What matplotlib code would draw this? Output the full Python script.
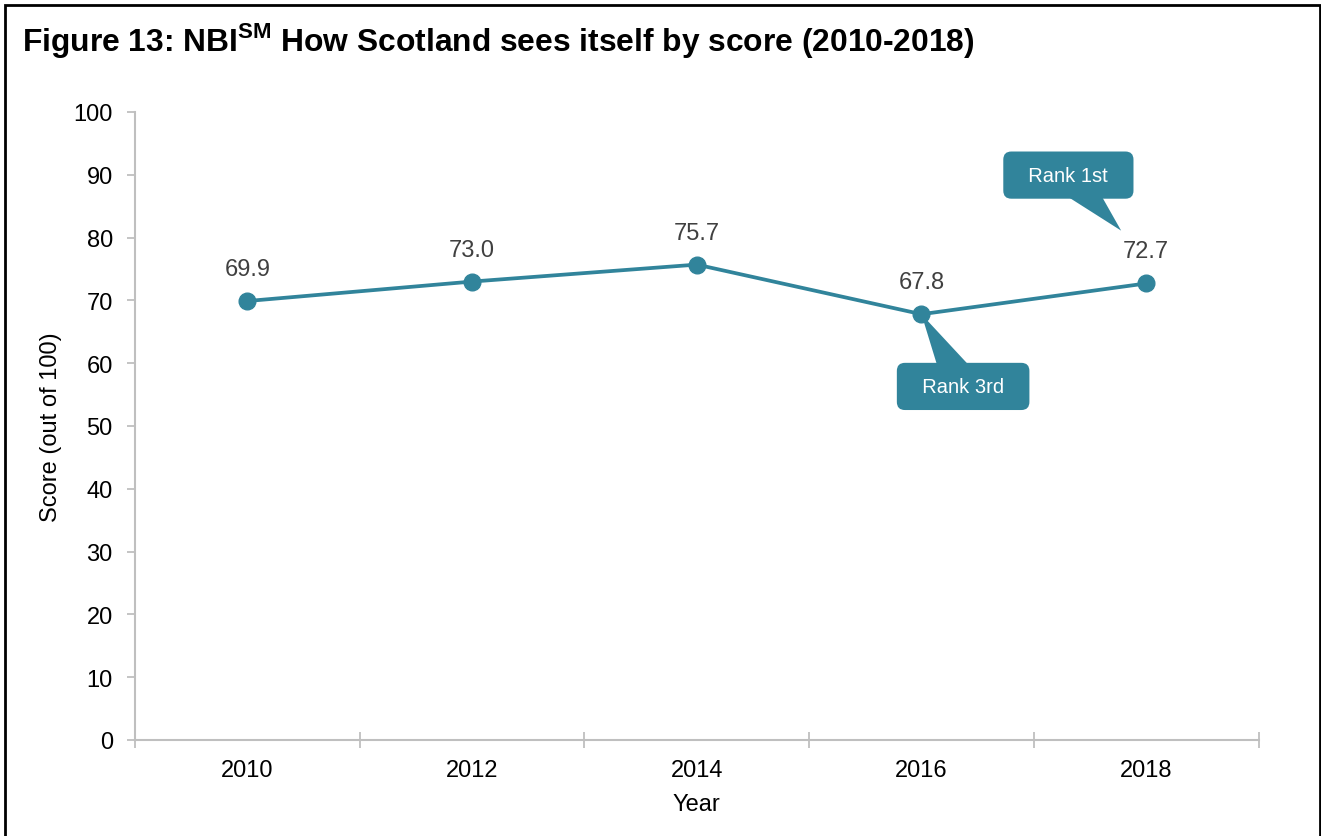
import matplotlib.pyplot as plt
from matplotlib.patches import Rectangle
from matplotlib.transforms import offset_copy

plt.rcParams['font.family'] = ['Liberation Sans', 'DejaVu Sans']
plt.rcParams['mathtext.fontset'] = 'custom'
plt.rcParams['mathtext.rm'] = 'Liberation Sans'
plt.rcParams['mathtext.bf'] = 'Liberation Sans:bold'

c_teal = '#31849b'
c_gris = '#bfbfbf'
c_texto = '#404040'

years = ['2010', '2012', '2014', '2016', '2018']
scores = [69.9, 73.0, 75.7, 67.8, 72.7]
y_ticks = list(range(0, 101, 10))

fig = plt.figure(figsize=(13.21, 8.37), dpi=100)
ax = fig.add_axes([0.1022, 0.1147, 0.8505, 0.7503])

x = list(range(len(years)))
ax.plot(x, scores, color=c_teal, linewidth=2.7, marker='o', markersize=12, zorder=3)

# etiquetas de datos
for xi, v in zip(x, scores):
    ax.annotate(f'{v:.1f}', (xi, v), xytext=(0, 23), textcoords='offset points',
                ha='center', va='center', fontsize=17, color=c_texto)

ax.set_xlim(-0.5, len(years) - 0.5)
ax.set_ylim(0, 100)
ax.set_yticks(y_ticks)
ax.set_xticks(x)
ax.set_xticklabels(years)
ax.set_xticks([i - 0.5 for i in range(len(years) + 1)], minor=True)
ax.tick_params(axis='x', which='major', length=0, pad=14, labelsize=17)
ax.tick_params(axis='x', which='minor', direction='inout', length=11, width=1.3, color=c_gris)
ax.tick_params(axis='y', length=6, width=1.3, color=c_gris, labelsize=17, pad=10)

for s in ['top', 'right']:
    ax.spines[s].set_visible(False)
for s in ['left', 'bottom']:
    ax.spines[s].set_color(c_gris)
    ax.spines[s].set_linewidth(1.5)

ax.set_xlabel('Year', fontsize=17, labelpad=8)
ax.set_ylabel('Score (out of 100)', fontsize=17, labelpad=8)

# callouts
caja = dict(boxstyle='round,pad=0.7,rounding_size=0.4', fc=c_teal, ec='none')
flecha = dict(arrowstyle='wedge,tail_width=1.9,shrink_factor=0.5', fc=c_teal, ec='none',
              shrinkA=0, shrinkB=0, patchA=None)

tip1 = offset_copy(ax.transData, fig=fig, x=-18, y=38, units='points')
ax.annotate('  Rank 1st  ', (4, scores[4]), xycoords=tip1, xytext=(-38, 40),
            textcoords='offset points', ha='center', va='center', fontsize=14.5,
            color='white', bbox=caja, arrowprops=flecha, zorder=5)

ax.annotate('  Rank 3rd  ', (3, scores[3]), xytext=(30, -52),
            textcoords='offset points', ha='center', va='center', fontsize=14.5,
            color='white', bbox=caja, arrowprops=flecha, zorder=5)

fig.text(22 / 1321, 1 - 40 / 837, r'Figure 13: NBI$^{\mathbf{SM}}$ How Scotland sees itself by score (2010-2018)',
         fontsize=22.9, fontweight='bold', ha='left', va='center')

# marco
fig.patches.append(Rectangle((5 / 1321, -0.02), 1315 / 1321, 1.02 - 6 / 837, transform=fig.transFigure,
                             fill=False, ec='black', lw=2, zorder=10))

fig.savefig('out.png', dpi=100)
